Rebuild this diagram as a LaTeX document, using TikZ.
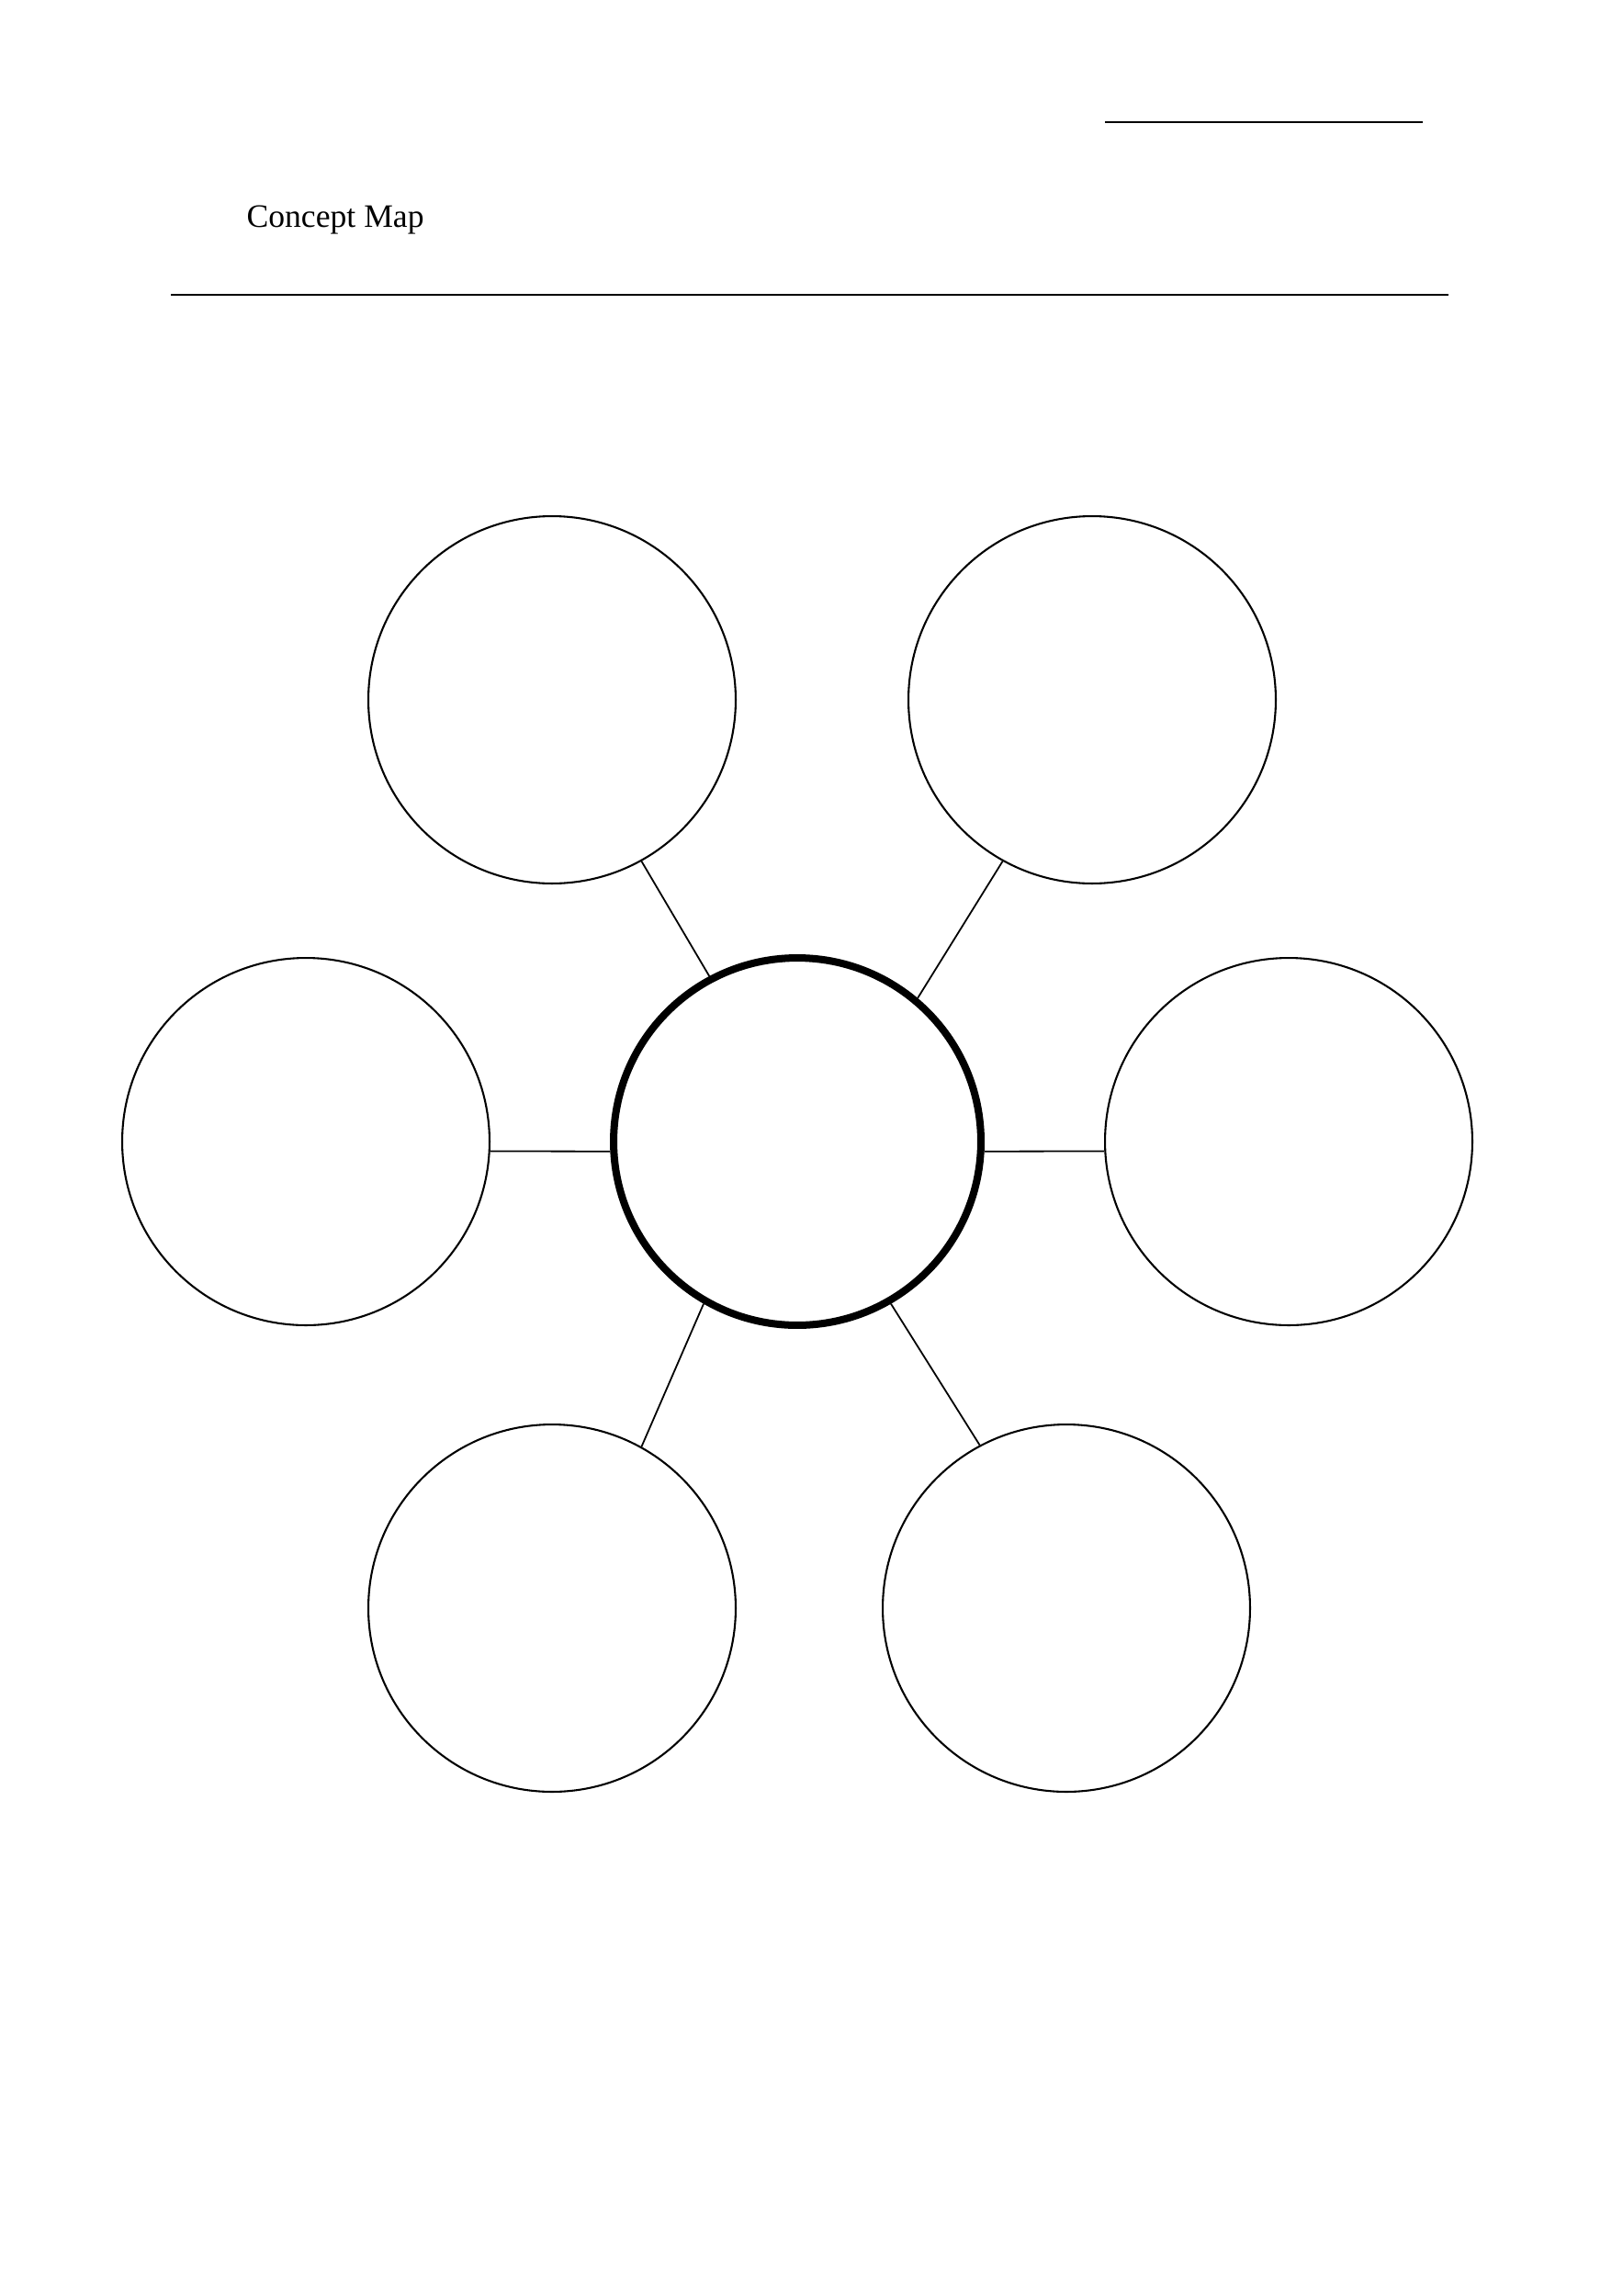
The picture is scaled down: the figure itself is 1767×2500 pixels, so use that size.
\documentclass[tikz,border=0pt]{standalone}
\usepackage{fontspec}
\setmainfont{Liberation Serif}
\begin{document}
\begin{tikzpicture}[x=0.3368pt,y=-0.3368pt,
  bubble/.style={circle,draw,line width=0.7pt,minimum size=134.7pt,inner sep=0pt},
  hub/.style={circle,draw,line width=2.7pt,minimum size=134.7pt,inner sep=0pt},
  link/.style={line width=0.6pt},
  rule/.style={line width=0.8pt}]
\useasboundingbox (0,0) rectangle (1767,2500);
% header
\coordinate (n1) at (1203,133);
\coordinate (n2) at (1549,133);
\draw[rule] (n1) -- (n2);
\node[anchor=base west,font=\fontsize{12}{14}\selectfont,inner sep=0pt] (title) at (268,248) {Concept Map};
\coordinate (r1) at (186,321);
\coordinate (r2) at (1577,321);
\draw[rule] (r1) -- (r2);
% circles
\node[hub] (c) at (868,1243) {};
\node[bubble] (tl) at (601,762) {};
\node[bubble] (tr) at (1189,762) {};
\node[bubble] (l) at (333,1243) {};
\node[bubble] (r) at (1403,1243) {};
\node[bubble] (bl) at (601,1751) {};
\node[bubble] (br) at (1161,1751) {};
% connectors
\draw[link] (c.118.8) -- (tl.-61.6);
\draw[link] (c.50.5) -- (tr.241.6);
\draw[link] (c.183.7) -- (l.-3.7);
\draw[link] (c.-3.7) -- (r.183.7);
\draw[link] (c.240.6) -- (bl.61.8);
\draw[link] (c.-60.6) -- (br.118.5);
\end{tikzpicture}
\end{document}
